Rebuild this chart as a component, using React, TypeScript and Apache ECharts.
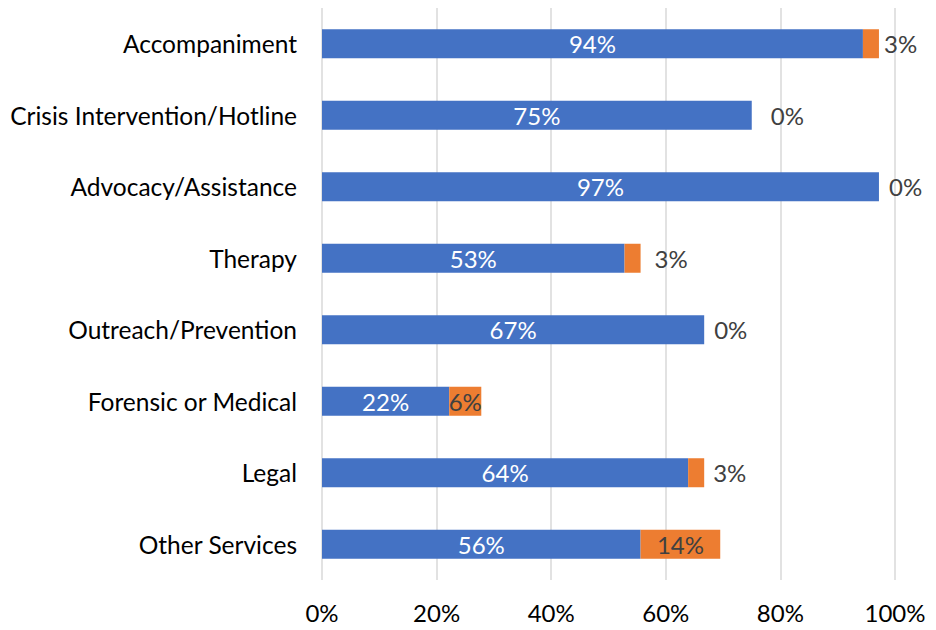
import React, { useEffect, useRef } from "react";
import * as echarts from "echarts";

const categories = [
  "Accompaniment",
  "Crisis Intervention/Hotline",
  "Advocacy/Assistance",
  "Therapy",
  "Outreach/Prevention",
  "Forensic or Medical",
  "Legal",
  "Other Services",
];
const blueValues = [94.4, 75.0, 97.2, 52.8, 66.7, 22.2, 63.9, 55.6];
const orangeValues = [2.8, 0, 0, 2.8, 0, 5.6, 2.8, 13.9];
const xTicks = [0, 20, 40, 60, 80, 100];

// label styling for the orange series (styles only)
const orangeLabelInside = [false, false, false, false, false, true, false, true];
const orangeLabelGap = [5, 19, 10, 14, 10, 0, 9, 0];

const FONT = "Lato, 'Liberation Sans', sans-serif";
const FS_CAT = 24.5;
const FS = 24;

export default function App() {
  const ref = useRef<HTMLDivElement>(null);
  useEffect(() => {
    if (!ref.current) return;
    const chart = echarts.init(ref.current, undefined, { renderer: "svg" });
    const fmt = (v: number) => `${Math.round(v)}%`;
    chart.setOption({
      animation: false,
      textStyle: { fontFamily: FONT },
      grid: { left: 322, right: 41, top: 8, bottom: 50, containLabel: false },
      xAxis: {
        type: "value",
        min: xTicks[0],
        max: xTicks[xTicks.length - 1],
        interval: 20,
        axisLine: { show: false },
        axisTick: { show: false },
        axisLabel: {
          formatter: (v: number) => `${v}%`,
          color: "#000",
          fontSize: FS,
          fontFamily: FONT,
          margin: 20,
        },
        splitLine: { show: true, lineStyle: { color: "#d9d9d9", width: 1.5 } },
      },
      yAxis: {
        type: "category",
        data: categories,
        inverse: true,
        axisLine: { show: false },
        axisTick: { show: false },
        axisLabel: {
          color: "#000",
          fontSize: FS_CAT,
          fontFamily: FONT,
          margin: 25,
        },
        splitLine: { show: false },
      },
      series: [
        {
          name: "Blue",
          type: "bar",
          stack: "total",
          barWidth: 29,
          itemStyle: { color: "#4472C4" },
          label: {
            show: true,
            position: "inside",
            color: "#fff",
            fontSize: FS,
            fontFamily: FONT,
            formatter: (p: any) => fmt(p.value),
          },
          data: blueValues,
        },
        {
          name: "Orange",
          type: "bar",
          stack: "total",
          barWidth: 29,
          itemStyle: { color: "#ED7D31" },
          data: orangeValues.map((v, i) => ({
            value: v,
            label: orangeLabelInside[i]
              ? { position: "inside" }
              : { position: "right", distance: orangeLabelGap[i] },
          })),
          label: {
            show: true,
            color: "#404040",
            fontSize: FS,
            fontFamily: FONT,
            formatter: (p: any) => fmt(p.value),
          },
        },
      ],
    });
    return () => chart.dispose();
  }, []);
  return <div ref={ref} style={{ width: 936, height: 630, margin: -8 }} />;
}
